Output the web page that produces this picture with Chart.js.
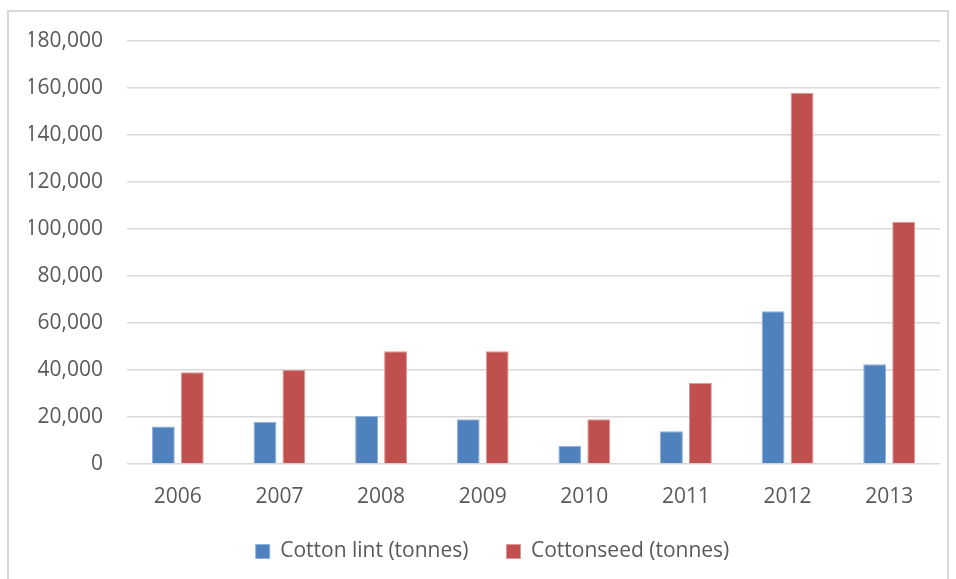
<!DOCTYPE html>
<html>
<head>
<meta charset="utf-8">
<script src="https://cdn.jsdelivr.net/npm/chart.js@4.4.1/dist/chart.umd.min.js"></script>
<style>
  html, body { margin: 0; padding: 0; background: #ffffff; overflow: hidden; }
  #frame {
    position: absolute; left: 7px; top: 10px; width: 942px; height: 580px;
    border: 2px solid #d9d9d9; box-sizing: border-box;
  }
  #wrap { position: absolute; left: 0; top: 0; width: 956px; height: 579px; overflow: hidden; }
</style>
</head>
<body>
<div id="frame"></div>
<div id="wrap"><canvas id="chart" width="956" height="600"></canvas></div>
<script>
// Annual cotton production, 2006–2013
const years = ['2006', '2007', '2008', '2009', '2010', '2011', '2012', '2013'];
const cottonLint = [16000, 18000, 20400, 19000, 7800, 13900, 65000, 42400];
const cottonseed = [39000, 40000, 48000, 48000, 19000, 34500, 158000, 103100];
const seriesNames = ['Cotton lint (tonnes)', 'Cottonseed (tonnes)'];

const textColor = '#595959';
const fontFamily = '"Open Sans", "Liberation Sans", sans-serif';
const fontSize = 21;

new Chart(document.getElementById('chart'), {
  type: 'bar',
  data: {
    labels: years,
    datasets: [
      {
        label: seriesNames[0],
        data: cottonLint,
        backgroundColor: '#4f81bd',
        borderColor: '#8eb0dc',
        borderWidth: 1,
        categoryPercentage: 0.57,
        barPercentage: 0.79
      },
      {
        label: seriesNames[1],
        data: cottonseed,
        backgroundColor: '#c0504d',
        borderColor: '#e09694',
        borderWidth: 1,
        categoryPercentage: 0.57,
        barPercentage: 0.79
      }
    ]
  },
  options: {
    responsive: false,
    animation: false,
    layout: { padding: { top: 41, right: 0, left: 29, bottom: 28 } },
    plugins: {
      tooltip: { enabled: false },
      legend: {
        position: 'bottom',
        labels: {
          color: textColor,
          font: { family: fontFamily, size: fontSize },
          boxWidth: 14,
          boxHeight: 14,
          padding: 38
        }
      }
    },
    scales: {
      x: {
        grid: { display: false },
        border: { display: false },
        ticks: { color: textColor, font: { family: fontFamily, size: fontSize }, padding: 12 },
        afterFit: (scale) => { scale.height = 39; }
      },
      y: {
        min: 0,
        max: 180000,
        grid: { color: '#d9d9d9', lineWidth: 1.5, drawTicks: false },
        border: { display: false },
        ticks: {
          stepSize: 20000,
          color: textColor,
          font: { family: fontFamily, size: fontSize },
          padding: 24,
          callback: (v) => v.toLocaleString('en-US')
        },
        afterFit: (scale) => { scale.width = 98; }
      },
      // empty right-hand margin axis
      yRight: {
        position: 'right',
        display: true,
        grid: { display: false },
        border: { display: false },
        ticks: { display: false },
        afterFit: (scale) => { scale.width = 16; }
      }
    }
  }
});
</script>
</body>
</html>
